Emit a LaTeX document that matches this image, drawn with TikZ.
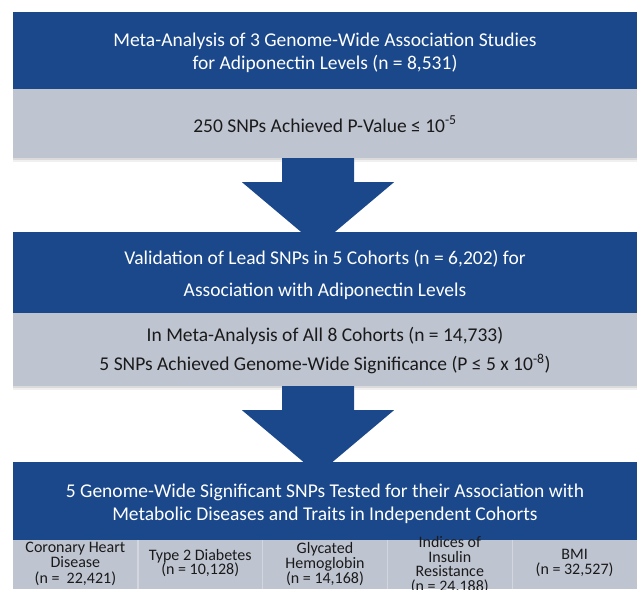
\documentclass[tikz,border=0pt]{standalone}
\usepackage{fontspec}
\setmainfont{Carlito}
\usetikzlibrary{calc}
\definecolor{darkblue}{HTML}{1A488B}
\definecolor{lightgray}{HTML}{BFC4D1}
\definecolor{sepline}{HTML}{D3D6DE}
\definecolor{txtdark}{HTML}{1A1A1A}
\begin{document}
\begin{tikzpicture}[x=1pt,y=-1pt,
  darkbox/.style={rectangle, fill=darkblue, draw=none, minimum width=624pt, inner sep=0pt},
  graybox/.style={rectangle, fill=lightgray, draw=none, minimum width=624pt, inner sep=0pt},
  whitetext/.style={text=white, align=center, inner sep=0pt, font=\fontsize{19.5}{23.5}\selectfont},
  darktext/.style={text=txtdark, align=center, inner sep=0pt, font=\fontsize{19.5}{29}\selectfont},
  colbox/.style={rectangle, fill=lightgray, draw=none, minimum width=124.8pt, minimum height=49pt, inner sep=0pt},
  coltext/.style={text=txtdark, align=center, inner sep=0pt, font=\fontsize{16}{14.8}\selectfont},
  bigarrow/.style={fill=darkblue, draw=none},
  shadowline/.style={fill=black, draw=none}
]
\useasboundingbox (0,0) rectangle (637,589);
% ---------------- box 1
\node[darkbox, minimum height=77pt] (b1) at (325,50.5) {};
\node[whitetext] (t1) at (325,53) {Meta-Analysis of 3 Genome-Wide Association Studies\\for Adiponectin Levels (n = 8,531)};
\node[graybox, minimum height=69pt] (g1) at (325,123.5) {};
\node[darktext] (u1) at (325,124) {250 SNPs Achieved P-Value ≤ 10\textsuperscript{-5}};
\fill[shadowline, opacity=0.14] (g1.south west) rectangle ($(g1.south east)+(0,2)$);
\fill[shadowline, opacity=0.06] ($(g1.south west)+(0,2)$) rectangle ($(g1.south east)+(0,4)$);
% ---------------- box 2
\node[darkbox, minimum height=81pt] (b2) at (325,272.5) {};
\node[whitetext, font=\fontsize{19.5}{32}\selectfont] (t2) at (325,275) {Validation of Lead SNPs in 5 Cohorts (n = 6,202) for\\Association with Adiponectin Levels};
\node[graybox, minimum height=73pt] (g2) at (325,349.5) {};
\node[darktext] (u2) at (325,351) {In Meta-Analysis of All 8 Cohorts (n = 14,733)\\5 SNPs Achieved Genome-Wide Significance (P ≤ 5 x 10\textsuperscript{-8})};
\fill[shadowline, opacity=0.14] (g2.south west) rectangle ($(g2.south east)+(0,2)$);
\fill[shadowline, opacity=0.06] ($(g2.south west)+(0,2)$) rectangle ($(g2.south east)+(0,4)$);
% ---------------- box 3
\node[darkbox, minimum height=78pt] (b3) at (325,501) {};
\node[whitetext] (t3) at (325,504) {5 Genome-Wide Significant SNPs Tested for their Association with\\Metabolic Diseases and Traits in Independent Cohorts};
\node[colbox] (c1) at (75.4,564.5) {};
\node[colbox] (c2) at (200.2,564.5) {};
\node[colbox] (c3) at (325,564.5) {};
\node[colbox] (c4) at (449.8,564.5) {};
\node[colbox] (c5) at (574.6,564.5) {};
\node[coltext] (d1) at (75.4,564) {Coronary Heart\\Disease\\[2pt](n =\ \ 22,421)};
\node[coltext] (d2) at (200.2,563) {Type 2 Diabetes\\(n = 10,128)};
\node[coltext] (d3) at (325,564) {Glycated\\Hemoglobin\\(n = 14,168)};
\node[coltext] (d4) at (449.8,565) {Indices of\\Insulin\\Resistance\\(n = 24,188)};
\node[coltext] (d5) at (574.6,563) {BMI\\(n = 32,527)};
\draw[sepline, line width=1.2pt] (c1.north east) -- (c1.south east);
\draw[sepline, line width=1.2pt] (c2.north east) -- (c2.south east);
\draw[sepline, line width=1.2pt] (c3.north east) -- (c3.south east);
\draw[sepline, line width=1.2pt] (c4.north east) -- (c4.south east);
% ---------------- arrows
\coordinate (a1) at ($(g1.south)+(-7,0)$);
\coordinate (a2) at ($(g2.south)+(-7,0)$);
\fill[bigarrow] ($(a1)+(-36,0)$) -- ($(a1)+(36,0)$) -- ($(a1)+(36,24)$) -- ($(a1)+(76,24)$)
  -- ($(a1)+(0,88)$) -- ($(a1)+(-76,24)$) -- ($(a1)+(-36,24)$) -- cycle;
\fill[bigarrow] ($(a2)+(-36,0)$) -- ($(a2)+(36,0)$) -- ($(a2)+(36,24)$) -- ($(a2)+(76,24)$)
  -- ($(a2)+(0,88)$) -- ($(a2)+(-76,24)$) -- ($(a2)+(-36,24)$) -- cycle;
\end{tikzpicture}
\end{document}
